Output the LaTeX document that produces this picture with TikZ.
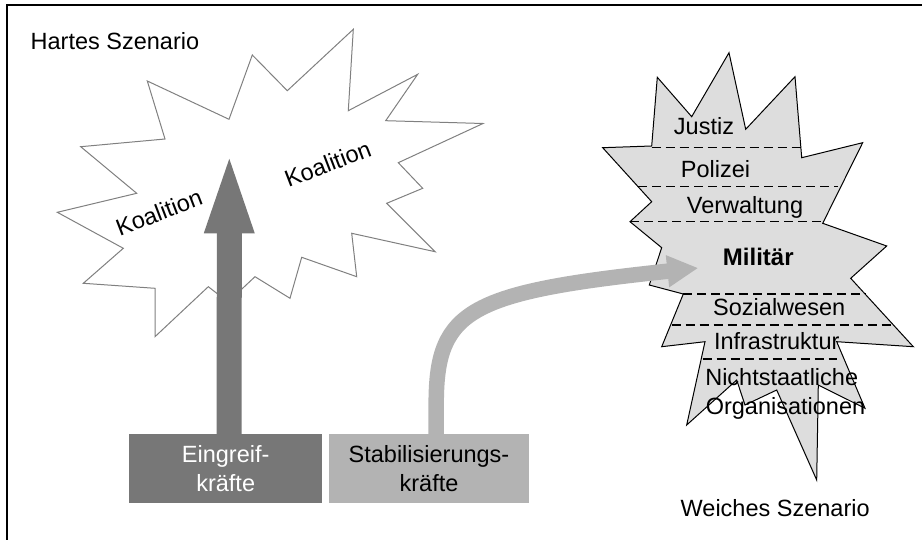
\documentclass[tikz,border=0pt]{standalone}
\usepackage{fontspec}
\setmainfont{Liberation Sans}
\usetikzlibrary{arrows.meta}
\definecolor{darkg}{HTML}{777777}
\definecolor{lightg}{HTML}{B3B3B3}
\definecolor{starfill}{HTML}{DDDDDD}
\definecolor{staredge}{HTML}{808080}
\begin{document}
\begin{tikzpicture}[x=1pt,y=-1pt,
  lbl/.style={inner sep=0pt, font=\fontsize{23.5}{29}\selectfont},
  forcebox/.style={minimum height=69pt, inner sep=0pt, align=center,
                   font=\fontsize{23.5}{29}\selectfont},
  sepline/.style={dash pattern=on 9pt off 5pt, line width=1.4pt},
  frameline/.style={line width=2pt},
]
\useasboundingbox (0,0) rectangle (922,540);
% frame (top and left only)
\draw[frameline] (922,5.5) -- (7,5.5) -- (7,540);

% left star (Hartes Szenario)
\draw[fill=white, draw=staredge, line width=1pt]
  (353.3,29.3) -- (348.3,110.7) -- (417.7,74.3) -- (385.7,120.7) -- (483,123.5)
  -- (398.3,162.7) -- (422.7,188.3) -- (386.7,203.3) -- (435,251.7) -- (351.7,233.3)
  -- (356.7,276.7) -- (301.7,257.3) -- (290,298.3) -- (255,276.7) -- (228,302)
  -- (208.3,286.7) -- (155,336.7) -- (155,288.3) -- (83.3,283.3) -- (123.3,248.3)
  -- (57.3,212.3) -- (136.7,193.3) -- (80.7,146.7) -- (165,139) -- (147.3,81)
  -- (229,119.3) -- (252.3,55) -- (287.3,90.7) -- cycle;

% right star (Weiches Szenario)
\draw[fill=starfill, draw=black, line width=1pt]
  (729,52.7) -- (745.7,129.3) -- (795,76.7) -- (801.7,157.7) -- (862.7,142.7)
  -- (822.7,223.3) -- (886.7,246) -- (850.7,278.3) -- (913.3,346.7) -- (836.7,341.7)
  -- (865,408.3) -- (818.3,385) -- (816.7,480) -- (776.7,390) -- (745,405)
  -- (736.7,380) -- (686.7,425) -- (705,341.7) -- (661.7,346.7) -- (683.3,294)
  -- (649.3,285) -- (661.7,247.7) -- (630,221.7) -- (651.7,201.7) -- (602.7,147.7)
  -- (651.7,146) -- (657.3,77.3) -- (691.7,116.7) -- cycle;

% dashed separators
\draw[sepline] (651.7,147.7) -- (801,147.7);
\draw[sepline] (638.3,186.7) -- (838.3,186.7);
\draw[sepline] (630,221.7) -- (822.7,221.7);
\draw[sepline] (683.3,294) -- (866,294);
\draw[sepline] (671.7,325) -- (895,325);
\draw[sepline] (702.7,359) -- (836.7,359);

% force boxes
\node[forcebox, fill=darkg, text=white, minimum width=193pt] (ein) at (225.7,468.5) {Eingreif-\\kräfte};
\node[forcebox, fill=lightg, text=black, minimum width=200pt] (stab) at (429,468.5) {Stabilisierungs-\\kräfte};

% arrows
\coordinate (eintip) at (229.3,146.7);
\coordinate (stabtip) at (698.3,268);
\draw[darkg, line width=25pt, -{Triangle[length=86.6pt, width=42.4pt]}]
  ([xshift=3.5pt]ein.north) -- (eintip);
\draw[lightg, line width=15.5pt, -{Triangle[length=31pt, width=30pt]}]
  ([xshift=7.2pt]stab.north) -- ++(0,-33) .. controls (437,310) and (470,292) .. (stabtip);

% labels
\node[lbl, anchor=base west] (hart) at (30.5,50) {Hartes Szenario};
\node[lbl, anchor=base west] (weich) at (680.5,516.7) {Weiches Szenario};
\node[lbl, anchor=base, rotate=21] (koal1) at (162,220.3) {Koalition};
\node[lbl, anchor=base, rotate=21] (koal2) at (330.8,171.7) {Koalition};

\node[lbl, anchor=base] (justiz) at (704,134.3) {Justiz};
\node[lbl, anchor=base] (polizei) at (715.5,177.3) {Polizei};
\node[lbl, anchor=base] (verw) at (745,213.3) {Verwaltung};
\node[lbl, anchor=base, font=\fontsize{24}{29}\selectfont\bfseries] (mil) at (758.3,266) {Militär};
\node[lbl, anchor=base] (sozial) at (779.2,316) {Sozialwesen};
\node[lbl, anchor=base] (infra) at (776.7,349.3) {Infrastruktur};
\node[lbl, anchor=base] (ngo1) at (781.7,385) {Nichtstaatliche};
\node[lbl, anchor=base] (ngo2) at (785.5,414.3) {Organisationen};
\end{tikzpicture}
\end{document}
